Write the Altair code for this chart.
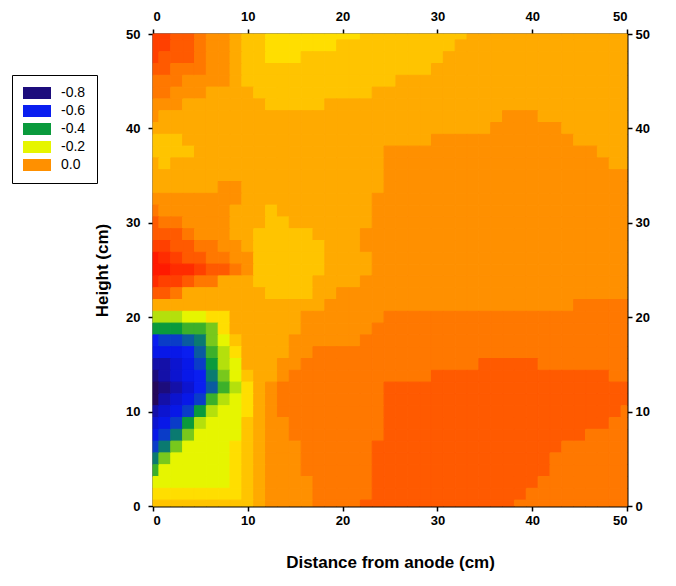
import altair as alt
import pandas as pd

# grid of cell centres every 1.25 cm; each row lists runs of contour-band codes
x_cm = [i * 1.25 for i in range(41)]
y_cm = [50 - i * 1.25 for i in range(41)]

band_rows = [
    "U2 T2 S1 R2 Q1 P2 O8 P9 Q14",        # y = 50
    "U2 T2 S1 R2 Q1 P2 O6 P10 Q15",
    "U1 T3 S1 R2 Q1 P2 O3 P12 Q16",
    "T2 S3 R2 Q1 P16 Q17",
    "S3 R4 Q1 P13 Q20",                    # y = 45
    "S2 R3 Q4 P10 Q22",
    "R3 Q7 P5 Q26",
    "R1 Q29 R3 Q8",
    "Q29 R6 Q6",                           # y = 40
    "P3 Q21 R12 Q5",
    "P4 Q16 R18 Q3",
    "Q1 P1 Q18 R19 Q2",
    "Q20 R21",                             # y = 35
    "Q6 R2 Q12 R21",
    "R8 Q11 R22",
    "S1 R6 Q3 P1 Q8 R22",
    "T1 S2 R4 Q3 P2 Q7 R22",               # y = 30
    "T3 S1 R3 Q2 P5 Q4 R23",
    "U2 T2 S2 R2 Q1 P6 Q3 R23",
    "W1 V1 U1 T2 S2 R2 P6 Q4 R22",
    "W2 V2 U1 T2 S1 R1 P6 Q4 R22",         # y = 25
    "V1 U2 T1 S2 Q3 P5 Q4 R23",
    "T2 S1 Q7 P4 Q2 R25",
    "Q15 R21 S5",
    "M3 N2 O2 Q6 R7 S21",                  # y = 20
    "J3 K2 L1 O1 Q6 R6 S22",
    "F1 G2 H1 I1 L1 N1 P1 Q4 R6 S23",
    "E3 F1 H1 K1 M1 O1 Q4 R2 S27",
    "C2 D1 E1 G1 J1 M1 N1 Q3 R2 S15 T5 S8",            # y = 15
    "B1 C1 D1 E1 F1 I1 L1 N1 P1 Q2 R1 S12 T15 S2",
    "A1 B1 C1 D1 F1 H1 K1 M1 O1 Q1 R1 S9 T21",
    "A1 C1 D1 E1 G1 K1 M1 N1 O1 Q1 R1 S9 T21",
    "C1 D1 E1 G1 J1 M1 N2 O1 Q1 R1 S9 T20 S1",         # y = 10
    "D1 E1 G1 J1 M1 N3 P1 Q1 R2 S8 T19 S2",
    "E1 G1 I1 L1 N4 P1 Q1 R2 S8 T17 S4",
    "G1 I1 L1 N4 O1 P1 Q1 R3 S6 T16 S6",
    "I1 L1 N5 O1 P1 Q1 R3 S6 T15 S7",                  # y = 5
    "K1 N6 O1 P1 Q1 R3 S6 T15 S7",
    "N7 O1 P1 Q1 R4 S5 T14 S8",
    "O8 P1 Q1 R4 S5 T13 S9",
    "P9 Q1 R4 S4 T13 S10",                 # y = 0
]

# contour levels (band A is below -0.8, band W above 0.25) and their fills
band_codes = list("ABCDEFGHIJKLMNOPQRSTUVW")
level_breaks = [-0.8, -0.75, -0.7, -0.65, -0.6, -0.55, -0.5, -0.45, -0.4, -0.35, -0.3, -0.25,
                -0.2, -0.15, -0.1, -0.05, 0.0, 0.05, 0.1, 0.15, 0.2, 0.25]
band_values = [-0.825, -0.775, -0.725, -0.675, -0.625, -0.575, -0.525, -0.475, -0.425, -0.375,
               -0.325, -0.275, -0.225, -0.175, -0.125, -0.075, -0.025, 0.025, 0.075, 0.125,
               0.175, 0.225, 0.275]
level_colors = ["#24085a", "#1c0c7c", "#1410a8", "#0c14d0", "#0818e8", "#0a1ef0", "#0a3cc8",
                "#0a5aa0", "#0a7a70", "#0a9a3c", "#3cb02a", "#78c81c", "#b4e00c", "#e6f500",
                "#ffde00", "#ffc400", "#ffaa00", "#ff9000", "#ff7800", "#ff5a00", "#ff4000",
                "#ff2c00", "#ff1a00"]

legend_labels = ["-0.8", "-0.6", "-0.4", "-0.2", "0.0"]
legend_colors = ["#1c0c7c", "#0a1ef0", "#0a9a3c", "#e6f500", "#ff9000"]

tick_values = [0, 10, 20, 30, 40, 50]

code_value = dict(zip(band_codes, band_values))
half = 0.625
records = []
for yi, row in zip(y_cm, band_rows):
    cells = []
    for run in row.split():
        cells += [run[0]] * int(run[1:])
    assert len(cells) == len(x_cm), (yi, len(cells))
    for xi, code in zip(x_cm, cells):
        records.append({
            "x0": max(0, xi - half), "x1": min(50, xi + half),
            "y0": max(0, yi - half), "y1": min(50, yi + half),
            "z": code_value[code],
        })
df = pd.DataFrame(records)
legend_df = pd.DataFrame({"label": legend_labels})

FONT = "Liberation Sans"
xscale = alt.Scale(domain=[0, 50], nice=False, zero=False)
yscale = alt.Scale(domain=[0, 50], nice=False, zero=False)
cscale = alt.Scale(type="threshold", domain=level_breaks, range=level_colors)

def ax(orient, title=None, labelPadding=3, **kw):
    return alt.Axis(orient=orient, values=tick_values, format="d", grid=False,
                    domainColor="black", domainWidth=2, tickColor="black", tickWidth=1.5,
                    tickSize=5, labelFont=FONT, labelFontSize=13, labelFontWeight="bold",
                    labelColor="black", labelPadding=labelPadding, title=title, titleFont=FONT,
                    titleFontSize=17, titleFontWeight="bold", titleColor="black", **kw)

cells_layer = alt.Chart(df).mark_rect(strokeWidth=1).encode(
    x=alt.X("x0:Q", scale=xscale, axis=ax("bottom", "Distance from anode (cm)", titlePadding=27)),
    x2="x1",
    y=alt.Y("y0:Q", scale=yscale, axis=ax("left", "Height (cm)", labelPadding=8, titlePadding=14)),
    y2="y1",
    color=alt.Color("z:Q", scale=cscale, legend=None),
    stroke=alt.Stroke("z:Q", scale=cscale, legend=None),
)

frame = alt.Chart(df).mark_rect(fillOpacity=0, strokeOpacity=0).encode(
    x=alt.X("x0:Q", scale=xscale, axis=ax("top", labelPadding=6)),
    x2="x1",
    y=alt.Y("y0:Q", scale=yscale, axis=ax("right")),
    y2="y1",
)

legend_layer = alt.Chart(legend_df).mark_square(opacity=0).encode(
    color=alt.Color("label:N",
                    scale=alt.Scale(domain=legend_labels, range=legend_colors),
                    sort=legend_labels,
                    legend=alt.Legend(title=None, orient="none", legendX=-141, legendY=41,
                                      symbolType="M-2.33,-1H2.33V1H-2.33Z", symbolSize=144,
                                      symbolOpacity=1, symbolStrokeWidth=0, symbolOffset=7,
                                      labelFont=FONT, labelFontSize=14, labelColor="black",
                                      labelOffset=17, rowPadding=4, padding=11,
                                      strokeColor="black", fillColor="white")),
)

chart = alt.layer(cells_layer, frame, legend_layer).resolve_axis(
    x="independent", y="independent"
).resolve_scale(color="independent").properties(
    width=474, height=472,
    autosize=alt.AutoSizeParams(type="none"),
    padding={"left": 145, "top": 26, "right": 40, "bottom": 72},
).configure_view(stroke=None).configure(background="white")

chart.save("out.html", embed_options={"renderer": "svg", "actions": False})
